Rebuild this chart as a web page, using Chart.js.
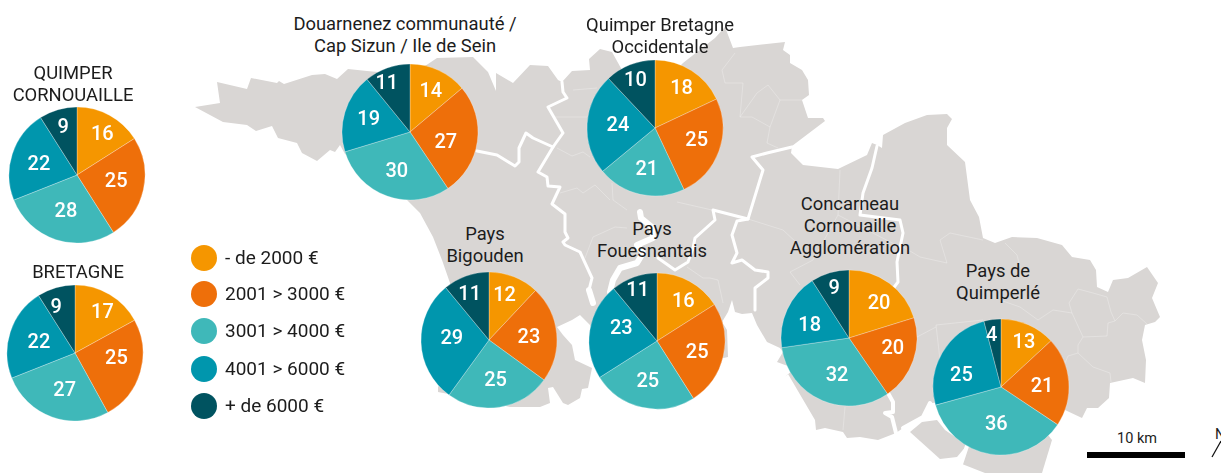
<!DOCTYPE html>
<html lang="fr"><head><meta charset="utf-8"><title>Revenus par territoire</title>
<script src="https://cdn.jsdelivr.net/npm/chart.js@4"></script>
<style>
html,body{margin:0;padding:0;background:#fff;width:1221px;height:473px;overflow:hidden;font-family:Roboto,sans-serif;color:#1c1c1c}
#stage{position:relative;width:1221px;height:473px;overflow:hidden}
#map{position:absolute;left:0;top:0}
canvas{position:absolute}
.title{position:absolute;transform:translateX(-50%);text-align:center;white-space:nowrap;font-size:18.4px;line-height:22px}
.leg{position:absolute;left:225px;font-size:19px;line-height:22px;white-space:nowrap}
.dot{position:absolute;left:191px;width:26px;height:26px;border-radius:50%}
.km{position:absolute;left:1117px;top:431px;font-size:14.5px;line-height:16px}
.north{position:absolute;left:1215px;top:427px;font-size:14.5px;line-height:16px}
</style></head><body><div id="stage">
<svg id="map" width="1221" height="473" viewBox="0 0 1221 473">
<g fill="#d9d6d4">
<path d="M195,107 220,103 217,82 247,89 251,78 277,83 279,81 284,84 312,75 325,74 337,79 348,69 367,71 378,72 410,80 425,66 437,58 473,57 488,72 496,91 496,73 513,83 530,65 548,66 558,80 562,82 572,71 590,70 589,59 600,49 612,52 622,70 655,90 680,66 683,63 697,52 715,38 725,27 733,48 740,47 785,42 783,50 790,55 790,63 802,70 808,80 809,95 802,100 808,118 823,118 825,121 792,146 791,153 803,165 838,169 867,155 872,143 877,145 882,148 883,135 905,123 927,115 947,114 952,119 947,128 947,145 965,162 970,200 979,217 983,238 995,243 1012,237 1037,238 1062,245 1072,257 1090,260 1096,270 1097,287 1108,292 1113,280 1128,278 1147,267 1158,283 1152,298 1160,317 1155,322 1145,325 1142,340 1146,360 1145,383 1133,378 1110,383 1109,398 1098,408 1087,408 1082,418 1065,410 1000,400 930,403 923,417 903,428 896,433 878,440 860,437 847,438 843,432 825,428 816,430 815,420 788,374 785,377 795,368 785,365 777,362 783,352 780,348 767,342 757,325 752,313 742,314 735,312 732,300 728,312 722,322 727,330 728,357 715,360 700,350 600,340 590,325 580,315 572,320 557,327 563,335 572,345 575,360 592,368 588,388 582,389 580,398 568,405 563,403 553,387 548,388 550,403 540,407 510,407 480,400 438,392 438,387 455,360 450,283 442,260 433,237 420,213 407,200 370,170 345,154 340,145 335,152 330,150 317,161 302,153 297,143 278,138 272,126 256,131 247,125 223,122Z"/>
<path d="M910,432 940,459 957,457 967,445 945,430 937,420 922,422Z"/>
<path d="M967,448 962,464 985,473 1042,473 1052,440 1040,425 990,425Z"/>
</g>
<g fill="none" stroke="#fff" stroke-width="3" stroke-linejoin="round" stroke-linecap="round">
<path d="M477,151 497,155 515,166 519,162 519,148 526,133 533,138 553,147"/>
<path d="M562,82 563,92 567,98 548,107 563,133 553,147 538,172 547,177 548,186 560,187 552,204 565,214 565,232 568,238 563,242 565,245 580,252 592,278 589,290"/>
<path stroke-width="6" d="M589,290 593,303"/>
<path d="M792,147 767,153 752,157 763,170 748,219 713,210 715,220 695,238 693,248 688,262 675,270 658,258"/>
<path d="M748,219 737,221 732,235 737,253 732,263 742,260 755,270 768,272 768,278 755,288 755,310"/>
<path d="M877,146 872,168 863,193 860,215 900,220 903,233 897,262 898,282 892,290"/>
<path stroke-width="4" d="M888,393 893,402 893,412 885,413 892,417 896,433"/>
<path stroke-width="4" d="M903,428 923,417 930,403"/>
<path stroke-width="6" d="M640,212 641,218 652,227 653,238 637,245 643,253 637,263 620,268 613,280 610,292"/>
<path stroke-width="4" d="M967,446 961,464"/>
</g>
<g fill="none" stroke="#fff" stroke-width=".6" stroke-opacity=".45">
<path d="M1078,289 1093,293 1107,297 1111,312 1115,321 1123,313 1137,315 1147,324"/>
<path d="M1078,289 1069,303 1072,313 1083,337 1107,336 1108,323 1115,321"/>
<path d="M1083,337 1078,345 1078,353 1093,367 1110,373 1111,382"/>
<path d="M1038,320 1053,310 1072,313"/>
<path d="M1078,353 1068,356 1065,363"/>
<path d="M1005,243 1017,255 1020,267"/>
<path d="M1000,300 1020,307 1038,320"/>
<path d="M936,325 983,320"/><path d="M936,325 940,360"/><path d="M917,337 936,327"/>
<path d="M940,240 950,233 983,240"/><path d="M940,240 947,263 920,257 900,245"/>
<path d="M790,272 800,285"/><path d="M790,272 813,260 838,215 840,170"/><path d="M838,215 900,247"/><path d="M845,407 843,430"/>
<path d="M748,219 783,230 797,243"/>
<path d="M555,117 587,117"/><path d="M573,90 597,88"/>
<path d="M557,148 572,156 583,152 590,157"/>
<path d="M735,53 722,70 725,83 743,83 740,117 752,117 770,127 767,143 778,148"/>
<path d="M740,117 757,93 768,85 780,100 770,127"/><path d="M780,100 803,100"/>
<path d="M677,202 712,210"/><path d="M612,183 613,200 627,210"/>
<path d="M560,193 577,188 583,193 595,185 610,200"/>
<path d="M585,258 593,237 615,227 627,228"/>
<path d="M687,267 703,278 710,278 718,280 723,303"/>
</g>
<path d="M1212,457 1221,441" stroke="#111" stroke-width="1.3" fill="none"/>
<rect x="1087" y="452" width="98" height="6" fill="#000"/>
</svg>
<div class="km">10 km</div><div class="north">N</div>
<div id="overlay"></div>
</div>
<script>
// Classes de la légende
const categories = ['- de 2000 €','2001 > 3000 €','3001 > 4000 €','4001 > 6000 €','+ de 6000 €'];
const colors = ['#f59600','#ee6f0a','#3fb8b9','#0096ad','#005360'];

// Valeurs de chaque territoire
const quimperCornouaille = [16,25,28,22,9];
const bretagne = [17,25,27,22,9];
const douarnenez = [14,27,30,19,11];
const quimperBretagne = [18,25,21,24,12];   // slice drawn as about 12 in the picture
const quimperBretagneLabels = [18,25,21,24,10]; // but printed 10
const bigouden = [12,23,25,29,11];
const fouesnantais = [16,25,25,23,11];
const concarneau = [20,20,32,18,9];
const quimperle = [13,21,36,25,4];

// Layout, separate from the data
const legendRows = [258,294,331,369,406];
const pies = [
 {v:quimperCornouaille, t:['QUIMPER','CORNOUAILLE'], cx:76.5, cy:175, tx:73, ty:62, n:[[5,-3],[-2,-2],[2,-3],[2,3],[-2,-7]]},
 {v:bretagne, t:['BRETAGNE'], cx:75, cy:353, tx:78, ty:261, n:[[6,-4],[1,-6],[4,-2],[4,3],[-7,-5]]},
 {v:douarnenez, t:['Douarnenez communauté /','Cap Sizun / Ile de Sein'], cx:410, cy:132, tx:405, ty:13, n:[[3,-2],[-6,5],[1,0],[-1,0],[-9,-8]]},
 {v:quimperBretagne, l:quimperBretagneLabels, t:['Quimper Bretagne','Occidentale'], cx:655, cy:128, tx:660, ty:14, n:[[4,-3],[2,-1],[1,1],[5,1],[-4,-8]]},
 {v:bigouden, t:['Pays','Bigouden'], cx:489, cy:340, tx:485, ty:223, n:[[0,-5],[-2,2],[0,-1],[5,-2],[-5,-5]]},
 {v:fouesnantais, t:['Pays','Fouesnantais'], cx:657, cy:341, tx:652, ty:218, n:[[6,-2],[-1,3],[0,0],[6,-5],[-5,-10]]},
 {v:concarneau, t:['Concarneau','Cornouaille','Agglomération'], cx:849, cy:338, tx:850, ty:193, n:[[5,0],[4,-3],[5,-1],[-1,6],[-3,-9]]},
 {v:quimperle, t:['Pays de','Quimperlé'], cx:1001, cy:387, tx:998, ty:260, n:[[6,-5],[-1,3],[2,-4],[-3,10],[-4,-9]]}
];

const sliceLabels = {
 id:'sliceLabels',
 afterDatasetsDraw(chart, args, opts){
  const ctx = chart.ctx;
  ctx.save();
  ctx.font = '500 20px Roboto, sans-serif';
  ctx.fillStyle = '#fff';
  ctx.textAlign = 'center';
  ctx.textBaseline = 'middle';
  chart.getDatasetMeta(0).data.forEach((arc,i)=>{
    const p = arc.getProps(['x','y','startAngle','endAngle','outerRadius']);
    const mid = (p.startAngle+p.endAngle)/2;
    const d = p.outerRadius*0.62;
    ctx.fillText(String(opts.text[i]), p.x+Math.cos(mid)*d+opts.nudge[i][0], p.y+Math.sin(mid)*d+opts.nudge[i][1]);
  });
  ctx.restore();
 }
};

const stage = document.getElementById('overlay');
const half = 72;
pies.forEach(p=>{
  const c = document.createElement('canvas');
  c.width = c.height = half*2;
  c.style.left = (p.cx-half)+'px';
  c.style.top = (p.cy-half)+'px';
  c.style.width = c.style.height = (half*2)+'px';
  stage.appendChild(c);
  new Chart(c,{
    type:'pie',
    plugins:[sliceLabels],
    data:{labels:categories,datasets:[{data:p.v,backgroundColor:colors,borderColor:'rgba(255,255,255,.55)',borderWidth:.5}]},
    options:{responsive:false,animation:false,radius:68,layout:{padding:0},
      plugins:{legend:{display:false},tooltip:{enabled:false},title:{display:false},
        sliceLabels:{text:p.l||p.v,nudge:p.n}}}
  });
  const t = document.createElement('div');
  t.className='title';
  t.style.left=p.tx+'px'; t.style.top=p.ty+'px';
  t.innerHTML=p.t.join('<br>');
  stage.appendChild(t);
});
categories.forEach((name,i)=>{
  const d=document.createElement('div');d.className='dot';
  d.style.top=(legendRows[i]-13)+'px';d.style.background=colors[i];stage.appendChild(d);
  const l=document.createElement('div');l.className='leg';
  l.style.top=(legendRows[i]-11)+'px';l.textContent=name;stage.appendChild(l);
});
</script></body></html>
